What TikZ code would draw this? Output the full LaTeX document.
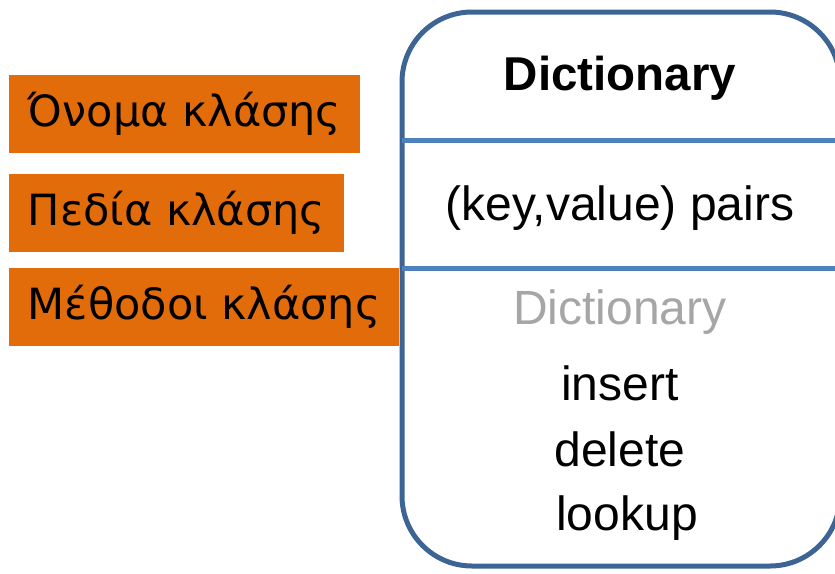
\documentclass[tikz,border=0pt]{standalone}
\usepackage{fontspec}
\setmainfont{Liberation Sans}
\newfontfamily\greekfont{DejaVu Sans}
\definecolor{boxorange}{HTML}{E36C0A}
\definecolor{frameblue}{HTML}{3C6494}
\definecolor{lineblue}{HTML}{4F81BD}
\definecolor{mutedgray}{HTML}{A6A6A6}
\tikzset{
  rolebox/.style={fill=boxorange, anchor=west, minimum height=78pt, inner xsep=18.5pt,
    font=\greekfont\fontsize{43}{52}\selectfont},
  member/.style={font=\fontsize{48}{58}\selectfont},
}
\begin{document}
\begin{tikzpicture}[x=1pt, y=-1pt]
            \useasboundingbox (0,0) rectangle (835,573) ;
            % class box
            \draw[frameblue, line width=5pt, rounded corners=70pt] (402,12) rectangle (840,566) ;
            \draw[lineblue, line width=5pt] (402,140) -- (835,140) ;
            \draw[lineblue, line width=5pt] (402,268) -- (835,268) ;
            % compartments
            \draw (620,78) node[member, font=\bfseries\fontsize{47.5}{57}\selectfont](name){Dictionary} ;
            \draw (620,208) node[member](fields){(key,value) pairs} ;
            \draw (620,312) node[member, mutedgray](ctor){Dictionary} ;
            \draw (620,383) node[member](insert){insert} ;
            \draw (620,449) node[member](delete){delete} ;
            \draw (627,518) node[member](lookup){lookup} ;
            % labels
            \draw (9,114) node[rolebox](lname){Όνομα κλάσης} ;
            \draw (9,213) node[rolebox](lfields){Πεδία κλάσης} ;
            \draw (9,307) node[rolebox](lmethods){Μέθοδοι κλάσης} ;
        \end{tikzpicture}
\end{document}
